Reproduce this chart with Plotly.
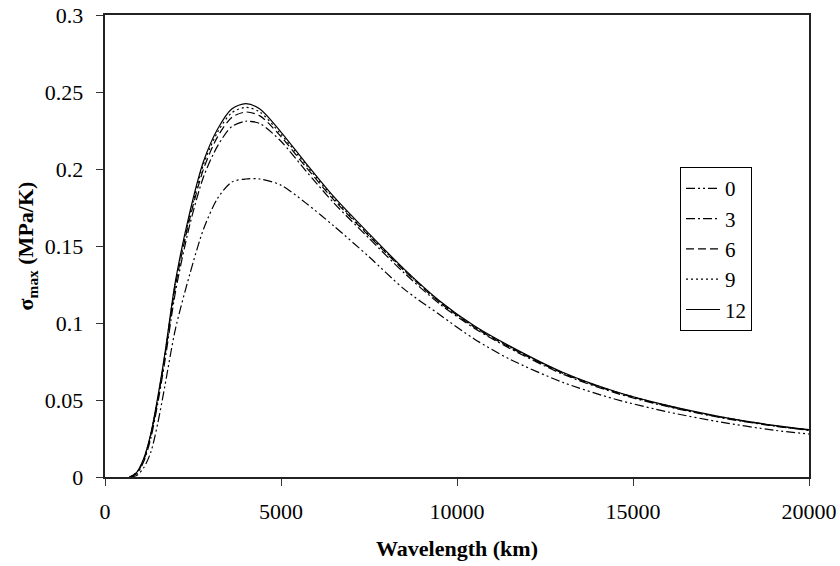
import plotly.graph_objects as go

wavelength_km = [700, 900, 1100, 1300, 1500, 1700, 2000, 2400, 2800, 3200, 3600, 4000, 4400,
                 5000, 5700, 6500, 7500, 8500, 9500, 10500, 11500, 13000, 14500, 16000,
                 17500, 19000, 20000]

sigma_0 = [0, 0.001, 0.006, 0.016, 0.035, 0.059, 0.096, 0.131, 0.161, 0.181, 0.1915, 0.1935,
           0.1935, 0.1895, 0.178, 0.163, 0.143, 0.122, 0.1055, 0.0895, 0.0765, 0.0615, 0.0505,
           0.0422, 0.0356, 0.0304, 0.0279]
sigma_3 = [0, 0.002, 0.010, 0.025, 0.048, 0.075, 0.120, 0.163, 0.195, 0.215, 0.2275, 0.231,
           0.2295, 0.218, 0.199, 0.178, 0.155, 0.1325, 0.1125, 0.0965, 0.0835, 0.0668, 0.0546,
           0.0456, 0.0385, 0.0331, 0.0303]
sigma_6 = [0, 0.0025, 0.011, 0.027, 0.050, 0.078, 0.124, 0.167, 0.200, 0.221, 0.2335, 0.237,
           0.2345, 0.221, 0.2015, 0.180, 0.1565, 0.134, 0.1135, 0.0972, 0.0842, 0.0674, 0.0551,
           0.0460, 0.0388, 0.0333, 0.0305]
sigma_9 = [0, 0.003, 0.0115, 0.0275, 0.051, 0.079, 0.126, 0.169, 0.203, 0.224, 0.2365, 0.240,
           0.237, 0.2225, 0.203, 0.181, 0.157, 0.1345, 0.114, 0.0976, 0.0846, 0.0677, 0.0553,
           0.0462, 0.0390, 0.0334, 0.0306]
sigma_12 = [0, 0.003, 0.012, 0.028, 0.052, 0.080, 0.127, 0.171, 0.205, 0.226, 0.239, 0.2425,
            0.239, 0.224, 0.204, 0.182, 0.158, 0.135, 0.1145, 0.098, 0.085, 0.068, 0.0555,
            0.0463, 0.0391, 0.0335, 0.0307]

series_names = ["0", "3", "6", "9", "12"]
series_values = [sigma_0, sigma_3, sigma_6, sigma_9, sigma_12]
dashes = ["9px,3px,2px,3px,2px,3px", "9px,3px,2px,3px", "8px,4px", "2px,3px", "solid"]

x_tickvals = [0, 5000, 10000, 15000, 20000]
x_ticktext = ["0", "5000", "10000", "15000", "20000"]
y_tickvals = [0, 0.05, 0.1, 0.15, 0.2, 0.25, 0.3]
y_ticktext = ["0", "0.05", "0.1", "0.15", "0.2", "0.25", "0.3"]

FONT = "Liberation Serif"

fig = go.Figure()
for name, vals, dash in zip(series_names, series_values, dashes):
    fig.add_trace(go.Scatter(
        x=wavelength_km, y=vals, name=name, mode="lines",
        line=dict(color="black", width=1.2, dash=dash, shape="spline", smoothing=0.8),
    ))

fig.update_layout(
    width=840, height=566,
    margin=dict(l=105, r=31, t=15, b=88.5),
    paper_bgcolor="white", plot_bgcolor="white",
    font=dict(family=FONT, size=22, color="black"),
    showlegend=True,
    legend=dict(
        x=0.8168, y=0.6707, xanchor="left", yanchor="top",
        bordercolor="black", borderwidth=1, bgcolor="white",
        font=dict(family=FONT, size=21, color="black"),
        traceorder="normal", itemwidth=34,
    ),
    xaxis=dict(
        range=[0, 20000], tickvals=x_tickvals, ticktext=x_ticktext,
        ticks="outside", ticklen=7, tickcolor="#333", tickwidth=1,
        showline=True, linecolor="#222", linewidth=1.5, mirror=True,
        showgrid=False, zeroline=False, ticklabelstandoff=7,
        title=dict(text="<b>Wavelength (km)</b>", font=dict(family=FONT, size=22), standoff=17),
        automargin=False,
    ),
    yaxis=dict(
        range=[0, 0.3], tickvals=y_tickvals, ticktext=y_ticktext,
        ticks="outside", ticklen=7.5, tickcolor="#333", tickwidth=1,
        showline=True, linecolor="#222", linewidth=1.5, mirror=True,
        showgrid=False, zeroline=False, ticklabelstandoff=8,
        title=dict(text="<b>σ<sub>max</sub> (MPa/K)</b>", font=dict(family=FONT, size=22), standoff=5),
        automargin=False,
    ),
)

fig.write_html("out.html", config={"displayModeBar": False},
               post_script="document.body.style.margin='0px';document.body.style.overflow='hidden';")
